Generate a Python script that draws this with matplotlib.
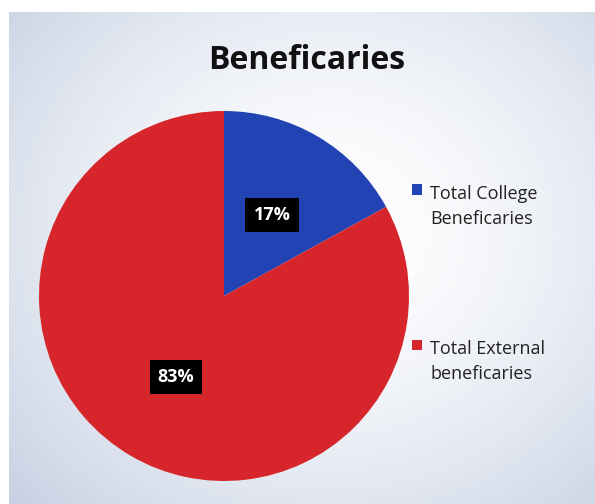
import numpy as np
import matplotlib.pyplot as plt
from matplotlib.patches import Patch, Rectangle
from matplotlib.legend_handler import HandlerPatch

# data
labels = ["Total College\nBeneficaries", "Total External\nbeneficaries"]
shares = [17, 83]
colors = ["#2243b4", "#d6262b"]
title = "Beneficaries"

plt.rcParams["font.family"] = ["Open Sans", "DejaVu Sans"]

fig = plt.figure(figsize=(5.95, 5.04), dpi=100, facecolor="white")

# scanned slide background: whitish centre fading to grey-blue edges
bg = fig.add_axes([9 / 595, 0, 1 - 9 / 595, 1 - 12 / 504])
yy, xx = np.mgrid[0:1:200j, 0:1:240j]
d = np.sqrt(((xx - 0.55) / 0.75) ** 2 + ((yy - 0.45) / 0.8) ** 2)
d = np.clip(d, 0, 1)
edge = np.array([0.78, 0.82, 0.89])
centre = np.array([1.0, 1.0, 1.0])
img = centre[None, None, :] * (1 - d[..., None] ** 1.6) + edge[None, None, :] * d[..., None] ** 1.6
bg.imshow(img, aspect="auto", extent=[0, 1, 0, 1], origin="upper")
bg.axis("off")

fig.text(0.516, 0.88, title, ha="center", va="center", fontsize=23,
         fontweight="bold", color="#111111")

ax = fig.add_axes([39 / 595, 23 / 504, 370 / 595, 370 / 504])
wedges, _, autotexts = ax.pie(shares, colors=colors, startangle=90, counterclock=False,
                              autopct="%d%%", pctdistance=0.51,
                              wedgeprops=dict(linewidth=0))
for t in autotexts:
    t.set_color("white")
    t.set_fontsize(13)
    t.set_fontweight("bold")
    t.set_bbox(dict(facecolor="black", edgecolor="none", boxstyle="square,pad=0.45"))
ax.set_xlim(-1, 1)
ax.set_ylim(-1, 1)
ax.set_aspect("equal")


# put the legend square next to the first line of a two-line label
def top_square(legend, orig_handle, xdescent, ydescent, width, height, fontsize):
    return Rectangle((-xdescent, -ydescent + 0.95 * fontsize), width, height)


handles = [Patch(facecolor=c, edgecolor="none") for c in colors]
leg = fig.legend(handles, labels, loc="upper left", bbox_to_anchor=(405 / 595, 1 - 178 / 504),
                 frameon=False, fontsize=13, labelspacing=6.25, handlelength=0.55,
                 handleheight=0.55, handletextpad=0.45, borderaxespad=0, labelcolor="#222222",
                 handler_map={Patch: HandlerPatch(patch_func=top_square)})
for t in leg.get_texts():
    t.set_linespacing(1.45)

fig.savefig("out.png", dpi=100, facecolor=fig.get_facecolor())
